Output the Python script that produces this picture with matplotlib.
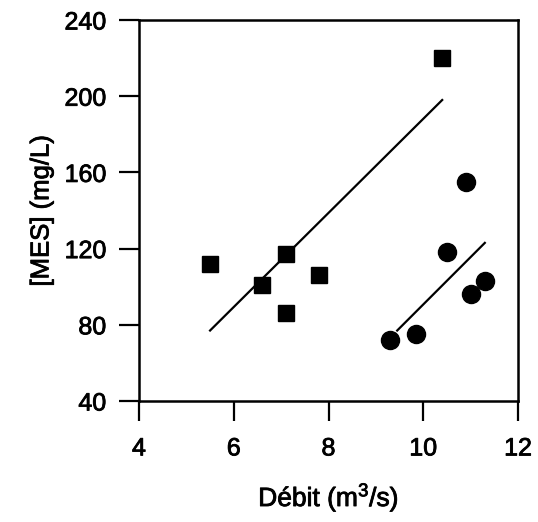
import matplotlib
matplotlib.use("Agg")
import matplotlib.pyplot as plt
import matplotlib.patheffects as pe

plt.rcParams['font.family'] = ['Liberation Sans', 'DejaVu Sans']
plt.rcParams['mathtext.fontset'] = 'custom'
plt.rcParams['mathtext.rm'] = 'Liberation Sans'
plt.rcParams['mathtext.default'] = 'regular'

# site A (squares)
debit_a = [5.5, 6.6, 7.1, 7.1, 7.8, 10.4]
mes_a = [112, 101, 117, 86, 106, 220]
fit_a_x = [5.5, 10.4]
fit_a_y = [77, 198]

# site B (circles)
debit_b = [9.3, 9.85, 10.5, 10.9, 11.0, 11.3]
mes_b = [72, 75, 118, 155, 96, 103]
fit_b_x = [9.45, 11.3]
fit_b_y = [77, 123]

xticks = [4, 6, 8, 10, 12]
yticks = [40, 80, 120, 160, 200, 240]

fig = plt.figure(figsize=(5.38, 5.22), dpi=100)
ax = fig.add_axes([0.2584, 0.2318, 0.7044, 0.7299])

ax.plot(fit_a_x, fit_a_y, color='black', lw=1.6)
ax.plot(fit_b_x, fit_b_y, color='black', lw=1.6)
ax.plot(debit_a, mes_a, 's', color='black', ms=11.5, clip_on=False)
ax.plot(debit_b, mes_b, 'o', color='black', ms=13, clip_on=False)

ax.set_xlim(4, 12)
ax.set_ylim(40, 240)
ax.set_xticks(xticks)
ax.set_yticks(yticks)
ax.tick_params(direction='out', length=14.5, width=1.6, labelsize=18)
ax.tick_params(axis='x', pad=11)
ax.tick_params(axis='y', pad=9)
for s in ax.spines.values():
    s.set_linewidth(1.8)

ax.set_xlabel('Débit (m$^3$/s)', fontsize=19, labelpad=15)
ax.set_ylabel('[MES] (mg/L)', fontsize=18.5, labelpad=8)

# slightly heavier strokes on all text
thick = [pe.withStroke(linewidth=0.6, foreground='black')]
for t in ax.get_xticklabels() + ax.get_yticklabels() + [ax.xaxis.label, ax.yaxis.label]:
    t.set_path_effects(thick)

fig.savefig('out.png', dpi=100)
